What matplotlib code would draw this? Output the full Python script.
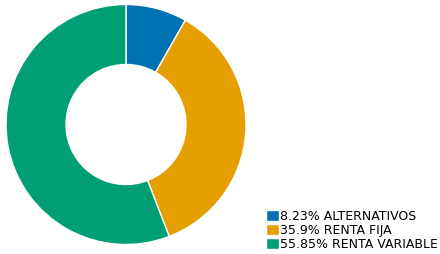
import matplotlib.pyplot as plt

labels = ["ALTERNATIVOS", "RENTA FIJA", "RENTA VARIABLE"]
values = [8.23, 35.9, 55.85]
colors = ["#0072B2", "#E69F00", "#009E73"]

fig = plt.figure(figsize=(4.4, 2.54), dpi=100)
W, H = 440, 254
ax = fig.add_axes([6 / W, 9 / H, 240 / W, 241 / H])

wedges, _ = ax.pie(values, colors=colors, startangle=90, counterclock=False,
                   radius=1.0, wedgeprops=dict(width=0.5, edgecolor="white", linewidth=1))
ax.set_aspect("equal")
ax.set_xlim(-1.0, 1.0)
ax.set_ylim(-1.0, 1.0)

leg_labels = [f"{v}% {l}" for v, l in zip(values, labels)]
fig.legend(wedges, leg_labels, loc="lower left", bbox_to_anchor=(266 / W, 3 / H),
           frameon=False, fontsize=9, handlelength=1.0, handleheight=1.0,
           handletextpad=0.15, labelspacing=0.1, borderpad=0, borderaxespad=0)

fig.savefig("out.png", dpi=100)
